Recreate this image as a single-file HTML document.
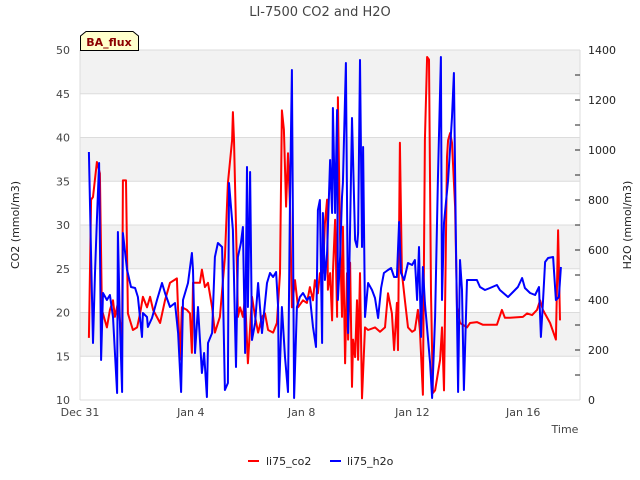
<!DOCTYPE html>
<html><head><meta charset="utf-8"><style>
body{margin:0;background:#fff}
svg{display:block;font-family:"DejaVu Sans","Liberation Sans",sans-serif}
</style></head><body>
<svg id="c" width="640" height="480"></svg>
<script>
const coTime=[.32,.40,.47,.61,.72,.79,.97,1.08,1.19,1.26,1.37,1.52,1.55,1.66,1.73,1.91,2.06,2.17,2.27,2.42,2.53,2.64,2.89,3.07,3.25,3.50,3.61,3.68,3.86,3.97,4.04,4.08,4.33,4.40,4.51,4.62,4.77,4.87,5.05,5.23,5.34,5.49,5.52,5.56,5.67,5.70,5.78,5.88,5.96,6.06,6.21,6.32,6.43,6.57,6.68,6.79,6.97,7.11,7.22,7.29,7.36,7.44,7.51,7.58,7.65,7.76,7.87,8.05,8.19,8.30,8.41,8.48,8.59,8.66,8.77,8.84,8.92,8.95,9.03,9.10,9.13,9.21,9.28,9.31,9.39,9.46,9.49,9.57,9.64,9.68,9.75,9.82,9.86,9.93,10.00,10.04,10.11,10.18,10.29,10.40,10.65,10.83,11.01,11.12,11.26,11.34,11.44,11.48,11.55,11.62,11.73,11.84,11.99,12.09,12.20,12.27,12.38,12.45,12.53,12.60,12.67,12.74,12.82,13.00,13.07,13.14,13.25,13.29,13.36,13.43,13.54,13.61,13.72,13.97,14.08,14.33,14.55,15.05,15.23,15.34,15.52,15.99,16.14,16.32,16.50,16.61,16.71,16.97,17.18,17.26,17.33];
const coVals=[17.1,32.9,33.2,37.2,35.9,20.3,18.3,20.3,21.4,19.5,21.1,16.9,35.1,35.1,19.9,18.0,18.3,19.9,21.8,20.6,21.8,20.3,18.8,21.4,23.4,23.9,14.6,20.6,20.3,19.9,15.4,23.4,23.4,24.9,22.9,23.4,20.6,17.7,19.5,26.3,34.8,39.7,42.9,39.7,24.5,19.5,20.6,19.5,21.8,14.2,21.8,19.5,17.7,19.5,19.9,18.0,17.7,18.8,24.5,43.1,40.9,32.1,38.2,32.1,20.6,23.7,20.6,21.4,21.1,22.9,21.4,23.7,22.2,24.5,24.5,30.2,32.9,22.6,24.5,19.1,24.5,30.6,19.5,44.6,28.3,19.5,29.8,14.2,24.5,16.9,25.7,11.5,16.9,14.9,21.4,14.6,24.5,10.2,18.3,18.0,18.3,17.8,18.3,22.2,19.9,15.7,21.1,15.7,39.4,24.5,21.4,18.3,17.8,18.0,20.3,18.0,10.6,39.7,49.2,48.9,22.2,10.8,11.1,14.6,18.3,11.1,37.8,39.7,40.5,39.4,32.1,20.6,18.8,18.3,18.8,18.9,18.6,18.6,20.3,19.4,19.4,19.5,19.9,19.7,20.3,21.4,20.3,18.8,16.9,29.4,19.1];
const h2oTime=[.32,.40,.47,.54,.61,.69,.76,.83,.97,1.08,1.19,1.34,1.37,1.44,1.52,1.55,1.70,1.84,1.99,2.09,2.24,2.27,2.42,2.45,2.60,2.78,2.96,3.07,3.25,3.43,3.54,3.65,3.72,3.90,4.04,4.08,4.15,4.26,4.40,4.48,4.58,4.62,4.77,4.87,4.98,5.13,5.23,5.34,5.38,5.52,5.63,5.70,5.81,5.88,5.96,6.03,6.06,6.14,6.21,6.32,6.43,6.57,6.68,6.75,6.86,6.97,7.08,7.15,7.18,7.29,7.40,7.51,7.58,7.65,7.73,7.83,7.94,8.05,8.19,8.30,8.41,8.52,8.59,8.66,8.74,8.77,8.84,8.92,9.03,9.10,9.13,9.21,9.28,9.31,9.39,9.46,9.49,9.60,9.68,9.75,9.82,9.93,10.00,10.04,10.11,10.18,10.22,10.29,10.40,10.54,10.65,10.76,10.87,10.97,11.12,11.23,11.34,11.44,11.52,11.59,11.70,11.84,11.99,12.09,12.17,12.24,12.31,12.38,12.45,12.64,12.71,12.82,12.92,13.03,13.07,13.14,13.29,13.43,13.50,13.57,13.65,13.72,13.79,13.86,13.97,14.33,14.44,14.62,14.80,15.05,15.16,15.45,15.63,15.81,15.96,16.06,16.25,16.43,16.57,16.64,16.71,16.79,16.90,17.08,17.18,17.29,17.36];
const h2oVals=[992,572,228,508,720,948,160,428,400,420,332,28,672,308,32,668,520,452,448,412,252,348,332,292,328,400,468,428,372,388,268,32,400,468,588,520,188,372,108,188,12,228,268,572,628,612,40,68,868,680,132,572,628,692,188,932,372,912,240,308,468,268,388,468,508,492,512,372,12,372,172,32,800,1320,8,372,412,428,400,412,292,212,760,800,228,748,480,588,960,748,1168,748,1160,400,572,812,868,1348,268,692,1128,640,612,668,1360,612,1012,332,468,440,408,328,448,508,520,528,492,492,712,508,480,548,540,560,400,612,252,532,388,148,8,332,880,1372,400,708,880,1132,1308,640,32,560,440,40,480,480,452,440,448,460,440,412,432,452,488,448,428,420,452,252,388,552,568,572,400,412,532];
const leftTicks=[10,15,20,25,30,35,40,45,50];
const rightTicks=[0,200,400,600,800,1000,1200,1400];
const xTickDays=[0,4,8,12,16];
const xTickLabels=["Dec 31","Jan 4","Jan 8","Jan 12","Jan 16"];

const L=80,R=580,T=50,B=400;
const xS=d=>L+d*27.7;
const yL=v=>B-(v-10)/40*(B-T);
const yR=v=>B-v/1400*(B-T);
const svg=document.getElementById('c');
const NS='http://www.w3.org/2000/svg';
function mk(tag,attrs,parent){const e=document.createElementNS(NS,tag);for(const k in attrs)e.setAttribute(k,attrs[k]);(parent||svg).appendChild(e);return e;}
function txt(s,attrs){const e=mk('text',attrs);e.textContent=s;return e;}

// bands
for(let i=0;i<8;i++){
  const v0=10+i*5;
  if(i%2===1){const r=mk('rect',{x:L,y:yL(v0+5),width:R-L,height:yL(v0)-yL(v0+5),fill:'#f2f2f2'});
  
  }
}
leftTicks.forEach(v=>{
  const g=mk('line',{x1:L,x2:R,y1:yL(v),y2:yL(v),stroke:'#dcdcdc','stroke-width':1});
  
  
  const t=txt(String(v),{x:70,y:yL(v)+4,'text-anchor':'end','font-size':11,fill:'#444'});
  
  
});
mk('line',{x1:L,x2:L,y1:T,y2:B,stroke:'#dcdcdc'});
mk('line',{x1:R,x2:R,y1:T,y2:B,stroke:'#dcdcdc'});
rightTicks.forEach(v=>{
  const t=txt(String(v),{x:588,y:yR(v)+4,'font-size':11,fill:'#222'});
  
  
});
for(let v=100;v<1400;v+=100){
  const m=mk('line',{x1:575,x2:580,y1:yR(v),y2:yR(v),stroke:'#222'});
  
  
}
xTickDays.forEach((d,i)=>{
  const t=txt(xTickLabels[i],{x:xS(d),y:416,'text-anchor':'middle','font-size':11,fill:'#444'});
  
  
});
function series(tm,vals,ys,color,name){
  const p=mk('polyline',{points:tm.map((d,i)=>xS(d).toFixed(1)+','+ys(vals[i]).toFixed(1)).join(' '),fill:'none',stroke:color,'stroke-width':2,'stroke-linejoin':'round'});
  
  
}
series(coTime,coVals,yL,'#ff0000','co2-line');
series(h2oTime,h2oVals,yR,'#0000ff','h2o-line');
</script>
<svg style="position:absolute;left:0;top:0" width="640" height="480">
<text x="320" y="16" text-anchor="middle" font-size="13" fill="#444" font-family="DejaVu Sans,sans-serif">LI-7500 CO2 and H2O</text>
<text transform="translate(19,225) rotate(-90)" text-anchor="middle" font-size="11" fill="#222" font-family="DejaVu Sans,sans-serif">CO2 (mmol/m3)</text>
<text transform="translate(631,225) rotate(-90)" text-anchor="middle" font-size="11" fill="#222" font-family="DejaVu Sans,sans-serif">H2O (mmol/m3)</text>
<text x="565" y="433" text-anchor="middle" font-size="11" fill="#444" font-family="DejaVu Sans,sans-serif">Time</text>
<g>
<polygon points="80.5,50.5 80.5,36 86,31.5 133,31.5 138.5,36 138.5,50.5" fill="#ffffcc" stroke="#000"/>
<text x="109" y="46" text-anchor="middle" font-size="11" font-weight="bold" fill="#8b0000" font-family="DejaVu Sans,sans-serif">BA_flux</text>
</g>
<g>
<line x1="248" x2="259" y1="461" y2="461" stroke="#ff0000" stroke-width="2"/>
<text x="266" y="465" font-size="11" fill="#222" font-family="DejaVu Sans,sans-serif">li75_co2</text>
</g>
<g>
<line x1="330" x2="341" y1="461" y2="461" stroke="#0000ff" stroke-width="2"/>
<text x="347" y="465" font-size="11" fill="#222" font-family="DejaVu Sans,sans-serif">li75_h2o</text>
</g>
</svg>
</body></html>
